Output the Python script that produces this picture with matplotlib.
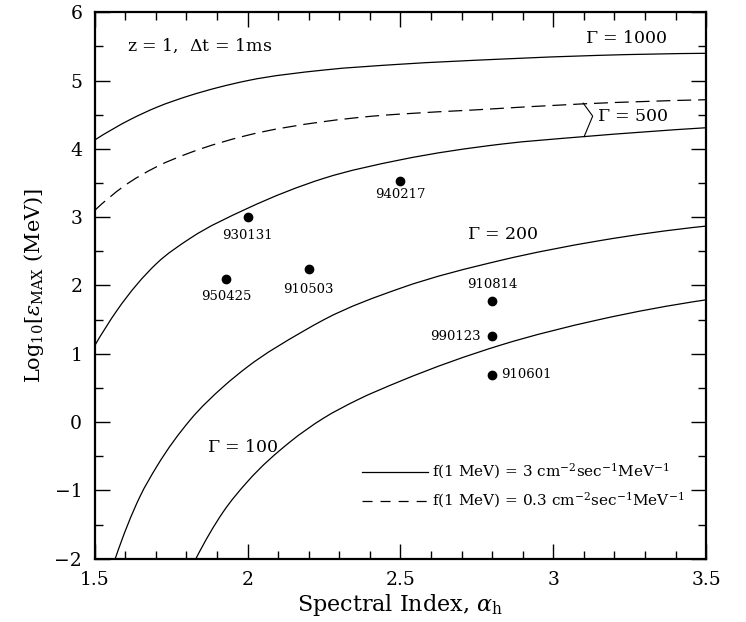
import matplotlib
matplotlib.use("Agg")
import matplotlib.pyplot as plt
from matplotlib.lines import Line2D
import matplotlib.path as mpath
import matplotlib.patches as mpatches

plt.rcParams['font.family'] = ['DejaVu Serif']
plt.rcParams['mathtext.fontset'] = 'dejavuserif'
plt.rcParams['lines.scale_dashes'] = False

# ---- data ----
g1000_x = [1.5, 1.616, 1.703, 1.81, 1.904, 2.0, 2.25, 2.5, 2.83, 3.15, 3.5]
g1000_y = [4.13, 4.43, 4.61, 4.78, 4.90, 5.0, 5.155, 5.24, 5.315, 5.37, 5.40]

dash_x = [1.5, 1.594, 1.703, 1.812, 2.0, 2.25, 2.41, 2.5, 2.74, 3.1, 3.5]
dash_y = [3.10, 3.45, 3.74, 3.945, 4.20, 4.40, 4.48, 4.51, 4.57, 4.66, 4.72]

g500_x = [1.5, 1.572, 1.703, 1.812, 2.0, 2.25, 2.5, 2.83, 3.1, 3.5]
g500_y = [1.12, 1.63, 2.325, 2.69, 3.13, 3.57, 3.84, 4.07, 4.18, 4.31]

g200_x = [1.567, 1.648, 1.703, 1.812, 1.921, 2.0, 2.182, 2.25, 2.5, 2.83, 3.15, 3.5]
g200_y = [-2.0, -1.09, -0.65, 0.03, 0.52, 0.81, 1.33, 1.50, 1.96, 2.37, 2.655, 2.87]

g100_x = [1.831, 1.921, 2.0, 2.139, 2.248, 2.357, 2.5, 2.83, 3.15, 3.5]
g100_y = [-2.0, -1.31, -0.87, -0.29, 0.056, 0.32, 0.60, 1.13, 1.50, 1.79]

grb_names = ['930131', '950425', '910503', '940217', '910814', '990123', '910601']
grb_alpha = [2.0, 1.93, 2.20, 2.50, 2.80, 2.80, 2.80]
grb_logE = [3.0, 2.09, 2.24, 3.53, 1.78, 1.26, 0.69]

# bracket joining the dashed curve and solid curve (Gamma = 500)
brk_x = [3.098, 3.129, 3.101]
brk_y = [4.67, 4.48, 4.18]


def smooth_curve(ax, xs, ys, **kw):
    """Draw a curve through the read points as cubic Bezier segments."""
    n = len(xs)
    d = [(ys[i + 1] - ys[i]) / (xs[i + 1] - xs[i]) for i in range(n - 1)]
    h = [xs[i + 1] - xs[i] for i in range(n - 1)]
    m = [0.0] * n
    for i in range(1, n - 1):
        m[i] = (h[i - 1] * d[i] + h[i] * d[i - 1]) / (h[i - 1] + h[i])
    m[0] = 2 * d[0] - m[1]
    m[-1] = 2 * d[-1] - m[-2]
    verts = [(xs[0], ys[0])]
    codes = [mpath.Path.MOVETO]
    for i in range(n - 1):
        verts += [(xs[i] + h[i] / 3, ys[i] + m[i] * h[i] / 3),
                  (xs[i + 1] - h[i] / 3, ys[i + 1] - m[i + 1] * h[i] / 3),
                  (xs[i + 1], ys[i + 1])]
        codes += [mpath.Path.CURVE4] * 3
    patch = mpatches.PathPatch(mpath.Path(verts, codes), fill=False,
                               edgecolor='black', **kw)
    ax.add_patch(patch)
    return patch


fig = plt.figure(figsize=(7.46, 6.22), dpi=100)
ax = fig.add_axes([0.127, 0.1018, 0.8195, 0.8784])

lw = 0.9
smooth_curve(ax, g1000_x, g1000_y, lw=lw)
smooth_curve(ax, dash_x, dash_y, lw=lw, linestyle=(0, (10, 5)))
smooth_curve(ax, g500_x, g500_y, lw=lw)
smooth_curve(ax, g200_x, g200_y, lw=lw)
smooth_curve(ax, g100_x, g100_y, lw=lw)
ax.plot(brk_x, brk_y, color='black', lw=0.8)

ax.plot(grb_alpha, grb_logE, 'o', color='black', ms=6, ls='none')

lab_fs = 9.5
offsets = {
    '930131': ((0, -13), 'center', 'center'),
    '950425': ((0, -12.5), 'center', 'center'),
    '910503': ((0, -14.5), 'center', 'center'),
    '940217': ((0, -9.5), 'center', 'center'),
    '910814': ((0, 11.5), 'center', 'center'),
    '990123': ((-8.5, 0), 'right', 'center'),
    '910601': ((6.5, 0), 'left', 'center'),
}
for n, a, e in zip(grb_names, grb_alpha, grb_logE):
    off, ha, va = offsets[n]
    ax.annotate(n, (a, e), xytext=off, textcoords='offset points',
                ha=ha, va=va, fontsize=lab_fs)

tfs = 12.5
ax.text(3.238, 5.62, r'$\Gamma$ = 1000', ha='center', va='center', fontsize=tfs)
ax.text(3.142, 4.48, r'$\Gamma$ = 500', ha='left', va='center', fontsize=tfs)
ax.text(2.834, 2.74, r'$\Gamma$ = 200', ha='center', va='center', fontsize=tfs)
ax.text(1.983, -0.37, r'$\Gamma$ = 100', ha='center', va='center', fontsize=tfs)
ax.text(1.605, 5.51, r'z = 1,  $\Delta$t = 1ms', ha='left', va='center', fontsize=tfs)

# legend drawn inside axes
ax.add_line(Line2D([0.4368, 0.5457], [0.1592, 0.1592], transform=ax.transAxes,
                   color='black', lw=lw))
ax.add_line(Line2D([0.4368, 0.5457], [0.1062, 0.1062], transform=ax.transAxes,
                   color='black', lw=lw, dashes=(7.2, 5.8)))
ax.text(0.5513, 0.1592, r'f(1 MeV) = 3 cm$^{-2}$sec$^{-1}$MeV$^{-1}$',
        transform=ax.transAxes, ha='left', va='center', fontsize=11)
ax.text(0.5513, 0.1062, r'f(1 MeV) = 0.3 cm$^{-2}$sec$^{-1}$MeV$^{-1}$',
        transform=ax.transAxes, ha='left', va='center', fontsize=11)

ax.set_xlim(1.5, 3.5)
ax.set_ylim(-2, 6)
ax.set_xticks([1.5, 2, 2.5, 3, 3.5])
ax.set_xticklabels(['1.5', '2', '2.5', '3', '3.5'])
ax.set_xticks([1.5 + 0.1 * i for i in range(21)], minor=True)
ax.set_yticks(range(-2, 7))
ax.set_yticklabels(['\u22122', '\u22121', '0', '1', '2', '3', '4', '5', '6'])
ax.set_yticks([-2 + 0.5 * i for i in range(17)], minor=True)
ax.tick_params(which='both', direction='in', top=True, right=True, width=1.0)
ax.tick_params(which='major', length=10.5, labelsize=13.5)
ax.tick_params(axis='x', which='major', pad=9)
ax.tick_params(axis='y', which='major', pad=9)
ax.tick_params(which='minor', length=5.5)
for s in ax.spines.values():
    s.set_linewidth(1.6)

ax.set_xlabel(r'Spectral Index, $\alpha_{\rm h}$', fontsize=16, labelpad=2)
ax.set_ylabel(r'Log$_{10}$[$\epsilon_{\rm MAX}$ (MeV)]', fontsize=15, labelpad=6)

fig.savefig('out.png', dpi=100)
